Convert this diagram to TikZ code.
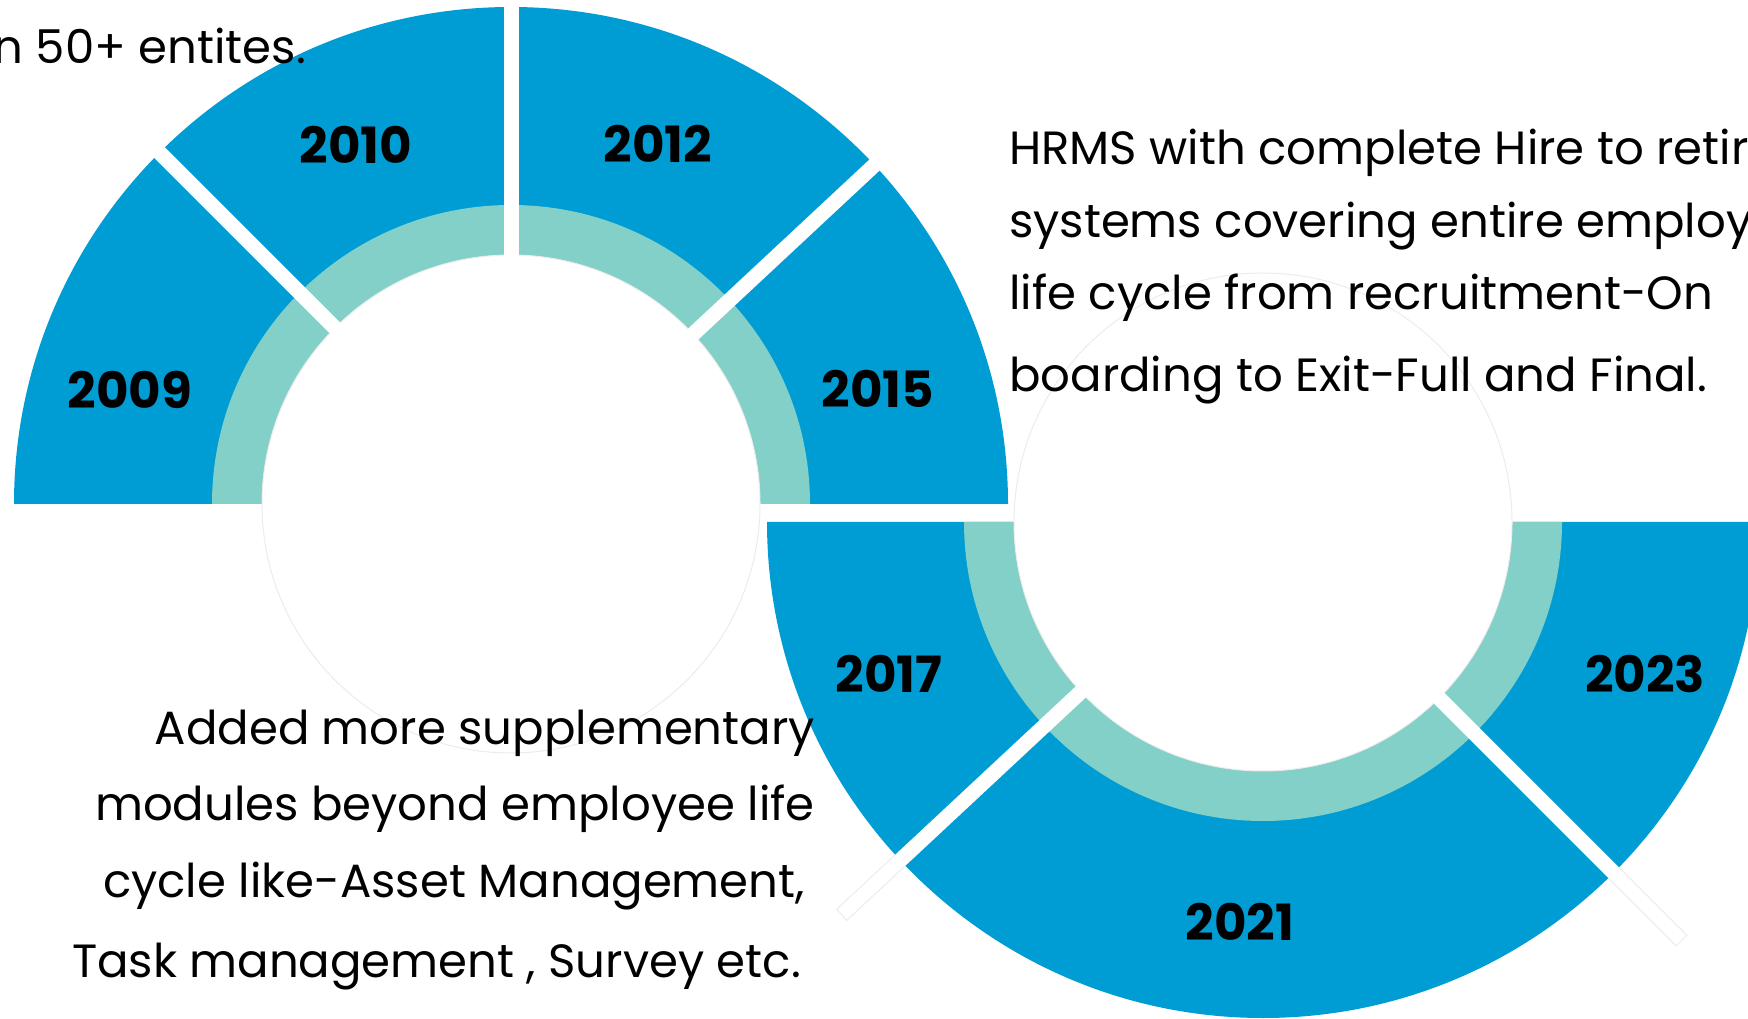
\documentclass[tikz,border=0pt]{standalone}
\usepackage{fontspec}
\setmainfont{Poppins}
\usetikzlibrary{calc}
\definecolor{donutblue}{RGB}{0,157,213}
\definecolor{donutteal}{RGB}{130,208,199}
\definecolor{faint}{RGB}{236,236,236}
\begin{document}
\begin{tikzpicture}[x=1pt,y=1pt,
  yearlabel/.style={font=\fontsize{50}{58}\selectfont\bfseries, text=black, inner sep=0pt},
  bodytext/.style={font=\fontsize{46.6}{55}\selectfont, text=black, inner sep=0pt},
  sepline/.style={draw=white, line width=15pt},
  hole/.style={fill=white, draw=faint, line width=1pt},
  ghost/.style={fill=white, draw=faint, line width=1pt}]
\useasboundingbox (0,0) rectangle (1748,1018);
\clip (0,0) rectangle (1748,1018);
\coordinate (T) at (511,514);
\coordinate (B) at (1263,496);
% top donut
\fill[donutblue] ($(T)+(-497,0)$) arc[start angle=180,end angle=0,radius=497] -- cycle;
\fill[donutteal] ($(T)+(-299,0)$) arc[start angle=180,end angle=0,radius=299] -- cycle;
\filldraw[hole] (T) circle[radius=249];
% ghost bars of the bottom donut
\begin{scope}[shift={(B)},rotate=223]
  \filldraw[ghost] (470,-7.5) rectangle (576,7.5);
\end{scope}
\begin{scope}[shift={(B)},rotate=315]
  \filldraw[ghost] (470,-7.5) rectangle (592,7.5);
\end{scope}
% bottom donut
\fill[donutblue] ($(B)+(-496,0)$) arc[start angle=180,end angle=360,radius=496] -- cycle;
\fill[donutteal] ($(B)+(-299,0)$) arc[start angle=180,end angle=360,radius=299] -- cycle;
\filldraw[hole] (B) circle[radius=249];
% separators
\coordinate (t90) at ($(T)+(90:500)$);
\coordinate (t135) at ($(T)+(135:500)$);
\coordinate (t45) at ($(T)+(43:500)$);
\coordinate (b223) at ($(B)+(223:497)$);
\coordinate (b315) at ($(B)+(315:497)$);
\coordinate (ti90) at ($(T)+(90:240)$);
\coordinate (ti135) at ($(T)+(135:240)$);
\coordinate (ti45) at ($(T)+(43:240)$);
\coordinate (bi223) at ($(B)+(223:240)$);
\coordinate (bi315) at ($(B)+(315:240)$);
\draw[sepline] (ti90) -- (t90);
\draw[sepline] (ti135) -- (t135);
\draw[sepline] (ti45) -- (t45);
\draw[sepline] (bi223) -- (b223);
\draw[sepline] (bi315) -- (b315);
% year labels
\node[yearlabel] (y2009) at (130,628) {2009};
\node[yearlabel] (y2010) at (356,873) {2010};
\node[yearlabel] (y2012) at (658,874) {2012};
\node[yearlabel] (y2015) at (878,629) {2015};
\node[yearlabel] (y2017) at (889,344) {2017};
\node[yearlabel] (y2021) at (1240,96) {2021};
\node[yearlabel] (y2023) at (1645,344) {2023};
% texts
\node[bodytext, anchor=base east] (entities) at (306,954) {n 50+ entites.};
\node[bodytext, anchor=base west] (hr1) at (1009,853) {HRMS with complete Hire to retir};
\node[bodytext, anchor=base west] (hr2) at (1009,780) {systems covering entire employ};
\node[bodytext, anchor=base west] (hr3) at (1009,708) {life cycle from recruitment-On};
\node[bodytext, anchor=base west] (hr4) at (1009,626) {boarding to Exit-Full and Final.};
\node[bodytext, anchor=base east] (ad1) at (815,273) {Added more supplementary};
\node[bodytext, anchor=base east] (ad2) at (815,198) {modules beyond employee life};
\node[bodytext, anchor=base east] (ad3) at (805,121) {cycle like-Asset Management,};
\node[bodytext, anchor=base east] (ad4) at (801,41) {Task management , Survey etc.};
\end{tikzpicture}
\end{document}
